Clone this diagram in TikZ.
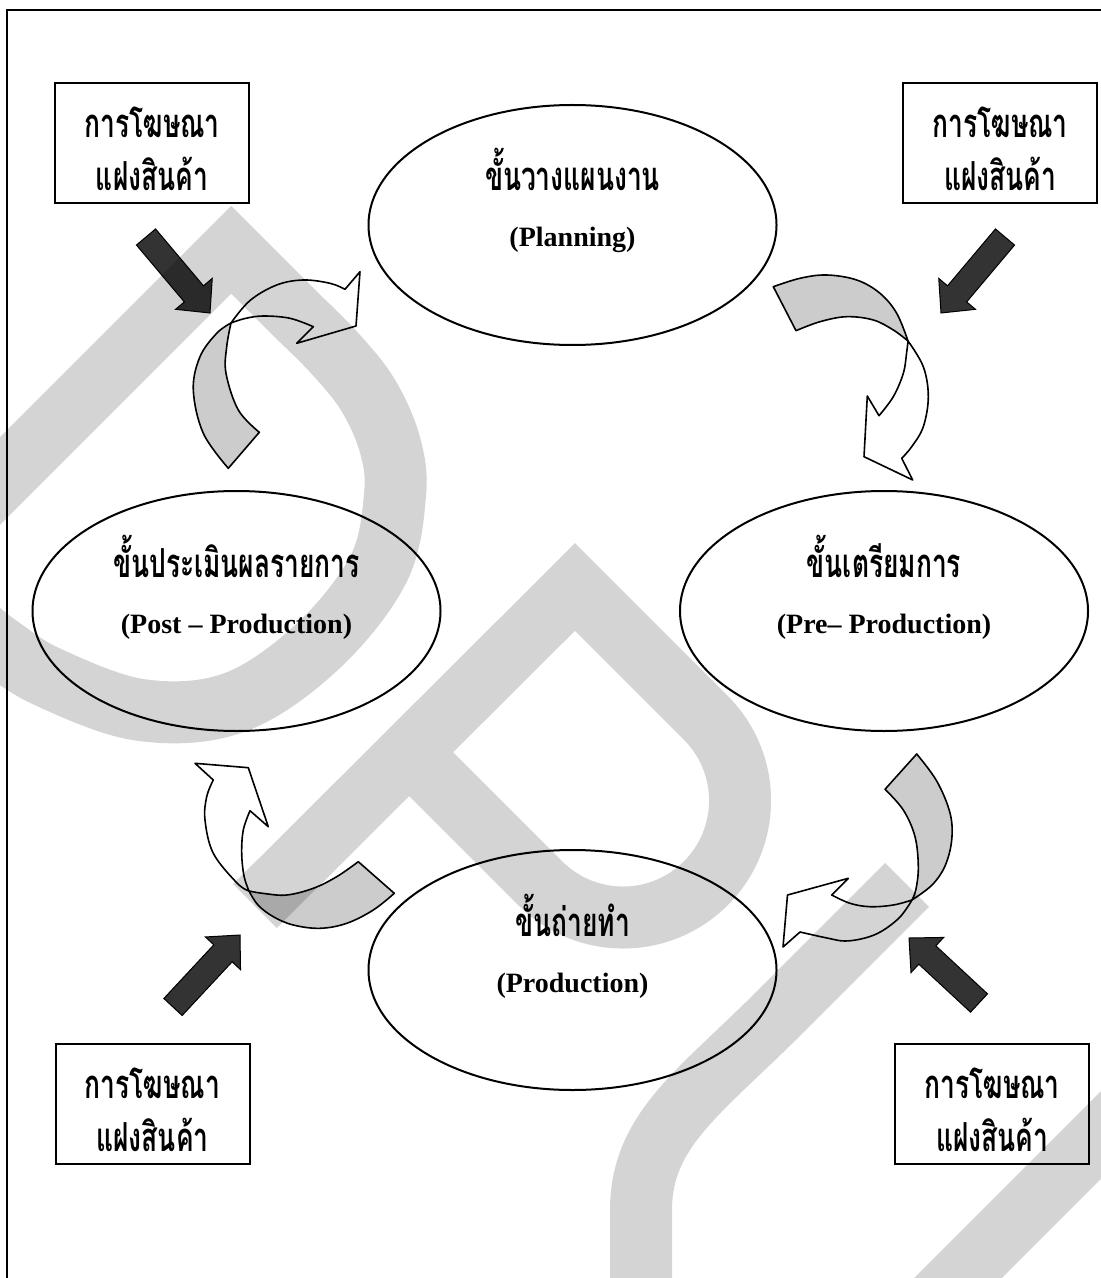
\documentclass[tikz,border=0pt]{standalone}
\usepackage{fontspec}
\setmainfont{Liberation Serif}
\newfontfamily\thaifont[Script=Thai, FakeStretch=0.66]{Loma}
\usetikzlibrary{calc,shapes.geometric}
\newcommand\blockarrow[3]{%
  \coordinate (#1-b) at ($(#3)!12.5pt!(#2)$);
  \draw[blk] ($(#2)!6.25pt!90:(#3)$) -- ($(#1-b)!6.25pt!-90:(#2)$) -- ($(#1-b)!12pt!-90:(#2)$) -- (#3) -- ($(#1-b)!12pt!90:(#2)$) -- ($(#1-b)!6.25pt!90:(#2)$) -- ($(#2)!6.25pt!-90:(#3)$) -- cycle;}
\begin{document}
\begin{tikzpicture}[x=0.5pt,y=-0.5pt,
  stage/.style={draw, line width=1pt, ellipse, minimum width=204pt, minimum height=120pt, inner sep=0pt},
  adbox/.style={draw, line width=1pt, rectangle, minimum width=97pt, minimum height=60pt, inner sep=0pt},
  th/.style={font=\thaifont\bfseries\fontsize{20pt}{22pt}\selectfont, anchor=base, inner sep=0pt},
  en/.style={font=\bfseries\fontsize{14pt}{16pt}\selectfont, anchor=base, inner sep=0pt},
  blk/.style={draw=black, line width=0.5pt, fill=black!80, line join=miter},
  under/.style={draw=black, line width=0.8pt, fill=black!20, line join=round},
  over/.style={draw=black, line width=0.8pt, fill=white, line join=round},
  wm/.style={draw=black, draw opacity=0.17, line width=31pt, line join=miter, line cap=butt},
  sm/.style={smooth, tension=0.6}]
\useasboundingbox (0,0) rectangle (1101,1278);
\fill[white] (0,0) rectangle (1101,1278);
% frame
\draw[line width=0.8pt] (7,1290) -- (7,10) -- (1120,10);

% stage ellipses
\node[stage] (plan) at (572.5,225) {};
\node[stage] (pre)  at (884,611) {};
\node[stage] (post) at (236.5,611) {};
\node[stage] (prod) at (572.5,970) {};
\node[th] (planth) at ($(plan.center)+(0,-34)$) {ขั้นวางแผนงาน};
\node[en] (planen) at ($(plan.center)+(0,22)$) {(Planning)};
\node[th] (preth) at ($(pre.center)+(0,-34)$) {ขั้นเตรียมการ};
\node[en] (preen) at ($(pre.center)+(0,22)$) {(Pre– Production)};
\node[th] (postth) at ($(post.center)+(0,-34)$) {ขั้นประเมินผลรายการ};
\node[en] (posten) at ($(post.center)+(0,22)$) {(Post – Production)};
\node[th] (prodth) at ($(prod.center)+(0,-34)$) {ขั้นถ่ายทำ};
\node[en] (proden) at ($(prod.center)+(0,22)$) {(Production)};

% advertising boxes
\node[adbox] (boxTL) at (152,143) {};
\node[adbox] (boxTR) at (1000,143) {};
\node[adbox] (boxBL) at (152.5,1103.5) {};
\node[adbox] (boxBR) at (992,1103.5) {};
\foreach \b in {boxTL,boxTR,boxBL,boxBR}{
  \node[th] (\b-1) at ($(\b.north)+(0,56)$) {การโฆษณา};
  \node[th] (\b-2) at ($(\b.north)+(0,109)$) {แฝงสินค้า};
}

% dark block arrows
\coordinate (aTLs) at (146,237);  \coordinate (aTLe) at (210,313);
\coordinate (aTRs) at (1005,237); \coordinate (aTRe) at (941,313);
\coordinate (aBLs) at (173,1007); \coordinate (aBLe) at (240,935);
\coordinate (aBRs) at (979,1003); \coordinate (aBRe) at (909,938);
\blockarrow{aTL}{aTLs}{aTLe}
\blockarrow{aTR}{aTRs}{aTRe}
\blockarrow{aBL}{aBLs}{aBLe}
\blockarrow{aBR}{aBRs}{aBRe}

% curved arrow A : post -> plan
\draw[under] plot[sm] coordinates {(228.3,468.3) (203.3,433.3) (193.3,390) (200,356.7) (216.7,333.3) (231,323)}
  -- plot[sm] coordinates {(231,323) (226.7,346.7) (226,373.3) (238.3,410) (259.3,432.3)} -- cycle;
\draw[over] plot[sm] coordinates {(231,323) (250,300.5) (276.7,285) (303.3,280) (330,283.3) (345,289.3)}
  -- (360,271.7) -- (356,326) -- (296.7,343.3) -- (313.3,326.7)
  -- plot[sm] coordinates {(313.3,326.7) (290,318.3) (263.3,316) (245,318.5) (231,323)} -- cycle;

% curved arrow B : plan -> pre
\draw[under] plot[sm] coordinates {(773.3,286.7) (800,278.3) (826.7,275) (856.7,280) (880,293.3) (896.7,313.3) (908,341)}
  -- plot[sm] coordinates {(908,341) (893.3,330) (873.3,320) (846.7,316.7) (820,321.7) (796,330.7)} -- cycle;
\draw[over] plot[sm] coordinates {(908,341) (923.3,366.7) (928.3,396.7) (923.3,426.7) (911.7,446.7) (901.7,458.3)}
  -- (912.7,480) -- (864,456.7) -- (867.3,396) -- (879,415.7)
  -- plot[sm] coordinates {(879,415.7) (893.3,396.7) (903.3,373.3) (906.7,352) (908,341)} -- cycle;

% curved arrow C : pre -> prod
\draw[under] plot[sm] coordinates {(916.7,754) (936.7,781) (950,813) (951.7,840) (945,866) (932,885) (912,900)}
  -- plot[sm] coordinates {(912,900) (916,889) (918.3,866.7) (915,836.7) (903.3,810) (885,789.3)} -- cycle;
\draw[over] plot[sm] coordinates {(912,900) (893.3,905) (870,906.7) (850,903.3) (831.7,895)}
  -- (848.3,878.3) -- (787.5,895) -- (783,947) -- (800,932)
  -- plot[sm] coordinates {(800,932) (827,938) (845,941) (865,938) (882,931) (900,917) (912,900)} -- cycle;

% curved arrow D : prod -> post
\draw[under] plot[sm] coordinates {(358.3,861.7) (336.7,876.7) (313.3,888.3) (286.7,895) (264,893.5) (249,891)}
  -- plot[sm] coordinates {(249,891) (258,905) (273.3,916.7) (293.3,925) (320,928.3) (346.7,923.3) (373.3,910) (394.3,893.3)} -- cycle;
\draw[over] plot[sm] coordinates {(249,891) (237,883) (213.3,853.3) (205,820) (206.7,796.7) (213.3,780)}
  -- (195,763.3) -- (248.3,767.7) -- (268.3,826.7) -- (250,810.7)
  -- plot[sm] coordinates {(250,810.7) (243.3,830) (241.7,853.3) (244,876) (249,891)} -- cycle;

% watermark
\begin{scope}
\clip (0,0) rectangle (1101,1278);
\draw[wm] (-40,521) -- (231.25,249.75) -- plot[sm] coordinates {(300,318.5) (335,353.5) (368,395) (390,445) (395,495) (378,570) (316,648) (233,703) (141,710) (50,678) (0,647) (-40,615)};
\draw[wm] (255,906) -- (575,587) -- (705.8,717.8) arc[start angle=-45, end angle=135, radius=117] -- (409.5,752.5);
\draw[wm] (907,885) -- (780,1012) .. controls (700,1092) and (641,1130) .. (641,1210) -- (641,1300);
\draw[wm] (1140,1096) -- (930,1306);
\end{scope}
\end{tikzpicture}
\end{document}
